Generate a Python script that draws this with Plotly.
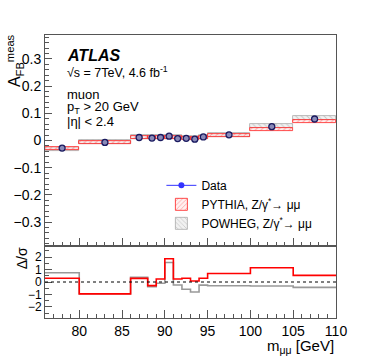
import plotly.graph_objects as go
from plotly.subplots import make_subplots

# bin edges in m_mumu [GeV]
edges = [76, 80, 86, 88, 89, 90, 91, 92, 93, 94, 95, 100, 105, 110]

# measured A_FB and uncertainties
data_afb = [-0.028, -0.007, 0.011, 0.009, 0.011, 0.016, 0.007, 0.008, 0.005, 0.013, 0.021, 0.051, 0.079]
data_err = [0.004, 0.003, 0.003, 0.003, 0.003, 0.004, 0.003, 0.003, 0.003, 0.003, 0.003, 0.004, 0.008]

# MC predictions
pythia = [-0.030, -0.006, 0.010, 0.011, 0.010, 0.010, 0.010, 0.008, 0.008, 0.010, 0.017, 0.041, 0.071]
pythia_err = [0.0055] * 13
powheg = [-0.033, -0.005, 0.012, 0.012, 0.013, 0.012, 0.012, 0.011, 0.010, 0.012, 0.019, 0.052, 0.084]
powheg_err = [0.007] * 13

# pulls Delta/sigma
pull_pythia = [0.3, -0.96, 0.29, -0.29, 0.24, 1.87, 0.24, 0.3, 0.08, 0.3, 0.69, 1.15, 0.53]
pull_powheg = [0.75, -0.95, 0.37, -0.37, -0.1, 1.57, -0.24, -0.58, -0.8, -0.25, -0.3, -0.32, -0.43]

centers = [(a + b) / 2 for a, b in zip(edges[:-1], edges[1:])]
widths = [b - a for a, b in zip(edges[:-1], edges[1:])]

FONT = "Liberation Sans, Arial, sans-serif"
FRAME = "#555555"

fig = make_subplots(rows=2, cols=1, shared_xaxes=True, vertical_spacing=0,
                    row_heights=[211, 72])

# POWHEG band (gray hatched)
fig.add_trace(go.Bar(
    x=centers, width=widths, base=[v - e for v, e in zip(powheg, powheg_err)],
    y=[2 * e for e in powheg_err], name="POWHEG, Z/γ<sup>*</sup>→ μμ", legendrank=3,
    marker=dict(color="rgba(235,235,235,0.7)", line=dict(width=0.8, color="#aaaaaa"),
                pattern=dict(shape="\\", fgcolor="#a0a0a0", size=4, solidity=0.25)),
), row=1, col=1)
# PYTHIA band (red hatched)
fig.add_trace(go.Bar(
    x=centers, width=widths, base=[v - e for v, e in zip(pythia, pythia_err)],
    y=[2 * e for e in pythia_err], name="PYTHIA, Z/γ<sup>*</sup>→ μμ", legendrank=2,
    marker=dict(color="rgba(255,230,230,0.6)", line=dict(width=0.8, color="#ff2020"),
                pattern=dict(shape="/", fgcolor="#ff5050", size=4, solidity=0.25)),
), row=1, col=1)

# data points
fig.add_trace(go.Scatter(
    x=centers, y=data_afb, mode="markers", showlegend=False,
    error_y=dict(type="data", array=data_err, color="#3333ff", thickness=1, width=0),
    marker=dict(symbol="circle", size=6, color="#8a8ab8", line=dict(color="#1a1a60", width=1.3)),
), row=1, col=1)
# legend proxy for data
fig.add_trace(go.Scatter(x=[None], y=[None], mode="lines+markers", name="Data", legendrank=1,
                         line=dict(color="#3333ff", width=1),
                         marker=dict(size=6, color="#3333ff")), row=1, col=1)

# pull panel
fig.add_trace(go.Scatter(x=edges, y=pull_powheg + [pull_powheg[-1]], mode="lines",
                         line=dict(color="#999999", width=1.6, shape="hv"),
                         showlegend=False), row=2, col=1)
fig.add_trace(go.Scatter(x=edges, y=pull_pythia + [pull_pythia[-1]], mode="lines",
                         line=dict(color="#ff0000", width=1.6, shape="hv"),
                         showlegend=False), row=2, col=1)
fig.add_hline(y=0, line=dict(color="black", width=1, dash="dot"), row=2, col=1)

axis_common = dict(showline=True, linecolor=FRAME, linewidth=1, mirror=True,
                   ticks="inside", tickcolor=FRAME, showgrid=False, zeroline=False,
                   tickfont=dict(family=FONT, size=14, color="black"))

fig.update_xaxes(range=[76, 110], tickvals=[80, 85, 90, 95, 100, 105, 110], ticklen=8,
                 minor=dict(dtick=1, tick0=76, ticks="inside", ticklen=4, tickcolor=FRAME),
                 **axis_common)
fig.update_xaxes(showticklabels=False, row=1, col=1)
fig.update_yaxes(range=[-0.388, 0.388], tickvals=[-0.3, -0.2, -0.1, 0, 0.1, 0.2, 0.3],
                 ticktext=["−0.3", "−0.2", "−0.1", "0", "0.1", "0.2", "0.3"], ticklen=7,
                 minor=dict(dtick=0.02, tick0=0, ticks="inside", ticklen=3.5, tickcolor=FRAME),
                 row=1, col=1, **axis_common)
fig.update_yaxes(range=[-2.9, 2.9], tickvals=[-2, -1, 0, 1, 2],
                 ticktext=["−2", "−1", "0", "1", "2"], ticklen=7,
                 minor=dict(dtick=0.5, tick0=0, ticks="inside", ticklen=3.5, tickcolor=FRAME),
                 row=2, col=1, **axis_common)
fig.update_yaxes(tickfont=dict(size=12), row=2, col=1)

fig.update_layout(
    width=374, height=357, barmode="overlay", bargap=0,
    margin=dict(l=45, r=38, t=35, b=39),
    paper_bgcolor="white", plot_bgcolor="white",
    font=dict(family=FONT, color="black"),
    legend=dict(x=0.40, y=0.52, xanchor="left", yanchor="top", bgcolor="rgba(0,0,0,0)",
                font=dict(size=12), tracegroupgap=0, itemwidth=30),
)


def note(text, x, y, size=13, **kw):
    fig.add_annotation(text=text, x=x, y=y, xref="paper", yref="paper", showarrow=False,
                       font=dict(family=FONT, size=size, color="black"), **kw)


note("<b><i>ATLAS</i></b>", 0.069, 0.929, size=16, xanchor="left", yanchor="middle")
note("√s = 7TeV, 4.6 fb<sup>-1</sup>", 0.069, 0.869, size=12.5, xanchor="left", yanchor="middle")
note("muon", 0.069, 0.79, xanchor="left", yanchor="middle")
note("p<sub>T</sub> > 20 GeV", 0.069, 0.745, xanchor="left", yanchor="middle")
note("|η| < 2.4", 0.069, 0.693, xanchor="left", yanchor="middle")

note("A<sub>FB</sub><sup>meas</sup>", -0.105, 1.01, size=16, textangle=-90,
     xanchor="center", yanchor="top")
note("Δ/σ", -0.078, 0.212, size=14, textangle=-90, xanchor="center", yanchor="middle")
note("m<sub>μμ</sub> [GeV]", 1.0, -0.102, size=15, xanchor="right", yanchor="middle")

# drop the default page margin so the figure sits at the window's top-left
fig.write_html("out.html", config={"displayModeBar": False},
               post_script="document.body.style.margin='0';")
